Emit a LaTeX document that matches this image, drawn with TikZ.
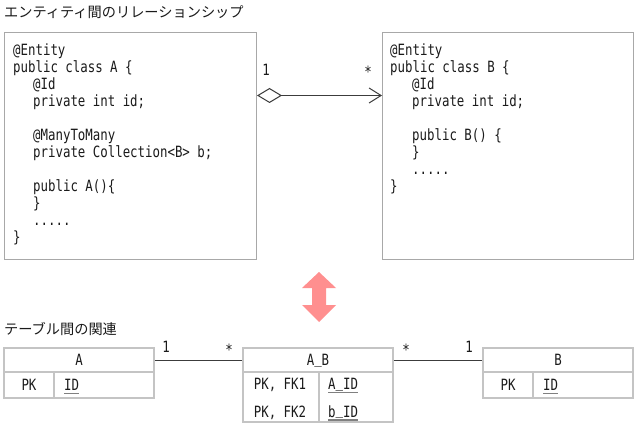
\documentclass[tikz,border=0pt]{standalone}
\usepackage{fontspec}
\usetikzlibrary{arrows.meta}
\newfontfamily\codef{DejaVu Sans Mono}[FakeStretch=0.8]
\newfontfamily\jpf{Noto Sans CJK JP}
\newcommand\codedots{.....}
\newcommand\us{\raisebox{2.5pt}{\_}}
\definecolor{boxgray}{HTML}{A8A8A8}
\definecolor{tblgray}{HTML}{C4C4C4}
\definecolor{linegray}{HTML}{3C3C3C}
\definecolor{ulgray}{HTML}{808080}
\definecolor{pinkarrow}{HTML}{FF8F8F}
\definecolor{txt}{HTML}{1A1A1A}
\begin{document}
\begin{tikzpicture}[x=1pt,y=-1pt,
  codebox/.style={draw=boxgray,line width=1pt,anchor=north west,inner sep=0,minimum height=227pt},
  codeline/.style={font={\codef\fontsize{15.5}{17}\selectfont},anchor=base west,inner sep=0,text=txt},
  title/.style={font={\jpf\fontsize{14.2}{16}\selectfont},anchor=west,inner sep=0,text=txt},
  mult/.style={font={\codef\fontsize{15.5}{17}\selectfont},inner sep=0,text=txt},
  conn/.style={draw=linegray,line width=1pt},
  tcell/.style={draw=tblgray,line width=1.5pt,inner sep=0,text height=11.3pt,text depth=0pt,
    font={\codef\fontsize{15.5}{17}\selectfont},text=txt},
  idtext/.style={font={\codef\fontsize{15.5}{17}\selectfont},anchor=base west,inner sep=0,text=txt},
  ul/.style={draw=ulgray,line width=1.6pt}
]
\useasboundingbox (0,0) rectangle (636,427);

% titles
\node[title] (t1) at (4,12.5) {エンティティ間のリレーションシップ};
\node[title] (t2) at (4,329) {テーブル間の関連};

% entity boxes
\node[codebox,minimum width=252pt] (ea) at (4,32) {};
\node[codebox,minimum width=251pt] (eb) at (382,32) {};

\foreach \i/\x/\t in {0/13/@Entity, 1/13/{public class A \{}, 2/33/@Id, 3/33/{private int id;},
  5/33/@ManyToMany, 6/33/{private Collection<B> b;}, 8/33/{public A()\{}, 9/33/\}, 10/33/\codedots, 11/13/\}}
  \node[codeline] (ca\i) at (\x,55.5+17*\i) {\t};

\foreach \i/\x/\t in {0/390/@Entity, 1/390/{public class B \{}, 2/412/@Id, 3/412/{private int id;},
  5/412/{public B() \{}, 6/412/\}, 7/412/\codedots, 8/390/\}}
  \node[codeline] (cb\i) at (\x,55.5+17*\i) {\t};

\draw[conn,{Diamond[open,length=25pt,width=15pt]}-{Straight Barb[length=12pt,width=15pt]}]
  (ea.east |- 0,95.5) -- (eb.west |- 0,95.5);
\node[mult] (m1) at (266,70) {1};
\node[mult] (m2) at (368,72) {*};

% pink double arrow
\fill[pinkarrow] (319,272) -- (336,288) -- (326,288) -- (326,305) -- (336,305) -- (319,322)
  -- (302,305) -- (312,305) -- (312,288) -- (302,288) -- cycle;

% table A
\node[tcell,minimum width=150pt,minimum height=24pt] (tah) at (79,360) {A};
\node[tcell,minimum width=50pt,minimum height=26pt] (tapk) at (29,385) {PK};
\node[tcell,minimum width=100pt,minimum height=26pt] (taid) at (104,385) {};
\node[idtext] (taidt) at (64,390.5) {ID};
\draw[ul] ([yshift=-3pt]taidt.base west) -- ([yshift=-3pt]taidt.base east);

% table A_B
\node[tcell,minimum width=150pt,minimum height=24pt] (tabh) at (318,360) {A\us B};
\node[tcell,minimum width=76pt,minimum height=50pt] (tabk) at (281,397) {};
\node[tcell,minimum width=74pt,minimum height=50pt] (tabc) at (356,397) {};
\node[tcell,draw=none] (tabk1) at (280,384) {PK, FK1};
\node[tcell,draw=none] (tabk2) at (280,412) {PK, FK2};
\node[idtext] (tabc1) at (328,389.5) {A\us ID};
\node[idtext] (tabc2) at (328,417) {b\us ID};
\draw[ul] ([yshift=-3pt]tabc1.base west) -- ([yshift=-3pt]tabc1.base east);
\draw[ul] ([yshift=-3pt]tabc2.base west) -- ([yshift=-3pt]tabc2.base east);

% table B
\node[tcell,minimum width=150pt,minimum height=24pt] (tbh) at (558,360) {B};
\node[tcell,minimum width=50pt,minimum height=26pt] (tbpk) at (508,385) {PK};
\node[tcell,minimum width=100pt,minimum height=26pt] (tbid) at (583,385) {};
\node[idtext] (tbidt) at (543,390.5) {ID};
\draw[ul] ([yshift=-3pt]tbidt.base west) -- ([yshift=-3pt]tbidt.base east);

% connectors
\draw[conn] (tah.east) -- (tabh.west);
\draw[conn] (tabh.east) -- (tbh.west);
\node[mult] (m3) at (166,347) {1};
\node[mult] (m4) at (229,350) {*};
\node[mult] (m5) at (406,350) {*};
\node[mult] (m6) at (469,347) {1};
\end{tikzpicture}
\end{document}
